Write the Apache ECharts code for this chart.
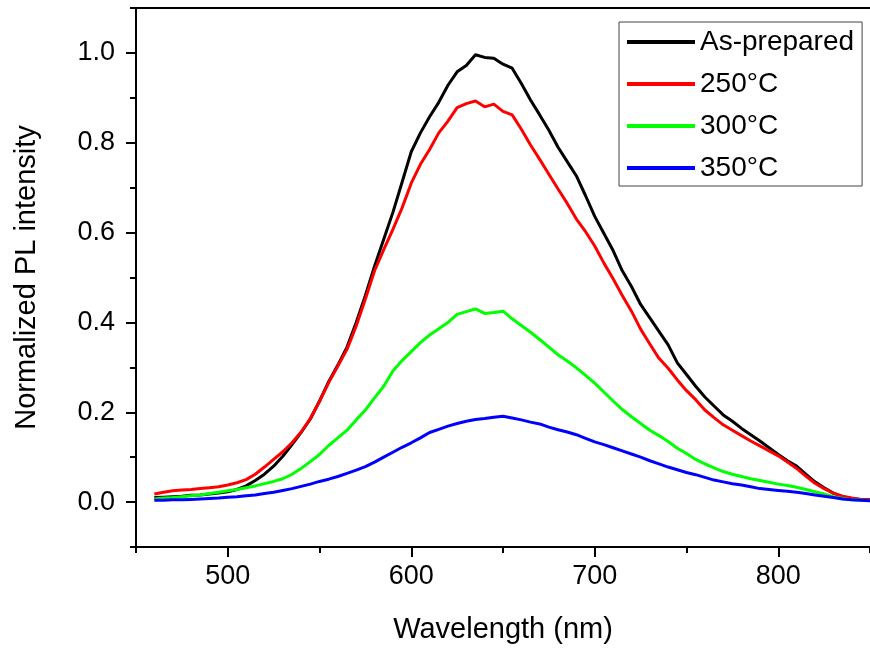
<!DOCTYPE html>
<html>
<head>
<meta charset="utf-8">
<script src="https://cdn.jsdelivr.net/npm/echarts@6/dist/echarts.min.js"></script>
<style>
html,body{margin:0;padding:0;background:#fff;}
#chart{width:870px;height:649px;}
</style>
</head>
<body>
<div id="chart"></div>
<script>
const wavelengths = [
460,465,470,475,480,485,490,495,500,505,
510,515,520,525,530,535,540,545,550,555,
560,565,570,575,580,585,590,595,600,605,
610,615,620,625,630,635,640,645,650,655,
660,665,670,675,680,685,690,695,700,705,
710,715,720,725,730,735,740,745,750,755,
760,765,770,775,780,785,790,795,800,805,
810,815,820,825,830,835,840,845,850];

const asPrepared = [
0.010,0.011,0.012,0.013,0.015,0.016,0.018,0.020,0.023,0.028,
0.036,0.048,0.062,0.080,0.102,0.128,0.155,0.185,0.225,0.268,
0.305,0.345,0.400,0.460,0.525,0.585,0.645,0.712,0.780,0.822,
0.858,0.890,0.928,0.958,0.972,0.996,0.990,0.988,0.975,0.966,
0.932,0.895,0.862,0.828,0.790,0.758,0.726,0.682,0.636,0.598,
0.560,0.515,0.480,0.440,0.410,0.380,0.350,0.310,0.284,0.258,
0.234,0.214,0.194,0.180,0.164,0.150,0.136,0.121,0.106,0.092,
0.080,0.062,0.045,0.032,0.020,0.012,0.008,0.006,0.005];

const t250 = [
0.018,0.022,0.025,0.027,0.028,0.030,0.032,0.034,0.038,0.043,
0.050,0.062,0.078,0.095,0.112,0.132,0.156,0.186,0.224,0.266,
0.303,0.340,0.392,0.452,0.515,0.562,0.607,0.655,0.710,0.752,
0.785,0.822,0.848,0.878,0.887,0.893,0.880,0.886,0.870,0.862,
0.830,0.795,0.763,0.730,0.697,0.665,0.630,0.602,0.570,0.532,
0.497,0.460,0.425,0.385,0.352,0.320,0.298,0.272,0.248,0.228,
0.205,0.188,0.172,0.160,0.148,0.136,0.125,0.114,0.103,0.089,
0.075,0.058,0.042,0.030,0.020,0.013,0.009,0.006,0.005];

const t300 = [
0.007,0.009,0.010,0.012,0.014,0.016,0.019,0.022,0.025,0.028,
0.032,0.036,0.041,0.046,0.052,0.062,0.075,0.090,0.106,0.126,
0.143,0.160,0.183,0.205,0.232,0.258,0.292,0.315,0.335,0.355,
0.372,0.386,0.400,0.418,0.424,0.430,0.420,0.422,0.425,0.408,
0.393,0.378,0.362,0.345,0.328,0.314,0.299,0.282,0.265,0.245,
0.225,0.206,0.190,0.175,0.160,0.148,0.135,0.120,0.108,0.095,
0.085,0.076,0.068,0.062,0.057,0.052,0.048,0.044,0.040,0.037,
0.033,0.028,0.023,0.018,0.012,0.008,0.005,0.004,0.003];

const t350 = [
0.004,0.004,0.005,0.005,0.006,0.007,0.008,0.009,0.011,0.012,
0.014,0.016,0.019,0.022,0.026,0.030,0.035,0.040,0.046,0.051,
0.057,0.064,0.071,0.079,0.089,0.100,0.111,0.122,0.132,0.143,
0.155,0.162,0.169,0.175,0.180,0.184,0.186,0.189,0.191,0.187,
0.183,0.178,0.174,0.167,0.161,0.156,0.150,0.142,0.134,0.128,
0.121,0.114,0.107,0.100,0.092,0.085,0.078,0.072,0.066,0.061,
0.055,0.049,0.045,0.041,0.038,0.034,0.030,0.028,0.026,0.024,
0.022,0.019,0.016,0.013,0.010,0.007,0.005,0.004,0.003];

const seriesNames = ['As-prepared', '250°C', '300°C', '350°C'];
const seriesColors = ['#000000', '#ff0000', '#00ff00', '#0000ff'];
const seriesValues = [asPrepared, t250, t300, t350];

const xTickLabels = [500, 600, 700, 800];
const yTickLabels = [0, 0.2, 0.4, 0.6, 0.8, 1.0];

const FONT = '"Liberation Sans", Arial, sans-serif';

const chart = echarts.init(document.getElementById('chart'), null, {renderer: 'canvas'});

const series = seriesNames.map((name, i) => ({
  name: name,
  type: 'line',
  symbol: 'none',
  showSymbol: false,
  smooth: false,
  color: seriesColors[i],
  lineStyle: {color: seriesColors[i], width: 3},
  itemStyle: {color: seriesColors[i]},
  xAxisIndex: 0,
  yAxisIndex: 0,
  data: wavelengths.map((w, k) => [w, seriesValues[i][k]])
}));

const axisLineStyle = {color: '#000', width: 2};

const option = {
  animation: false,
  backgroundColor: '#fff',
  textStyle: {fontFamily: FONT},
  grid: {left: 136, right: -2, top: 8, bottom: 100, containLabel: false},
  legend: {
    orient: 'vertical',
    left: 619,
    top: 22,
    padding: [6, 8, 4, 8],
    itemWidth: 68,
    itemHeight: 4,
    itemGap: 14,
    icon: 'rect',
    borderColor: '#444',
    borderWidth: 1,
    backgroundColor: '#fff',
    textStyle: {fontSize: 28, color: '#000', lineHeight: 28, fontFamily: FONT},
    data: seriesNames
  },
  xAxis: [{
    type: 'value',
    min: 450,
    max: 850,
    interval: 100,
    position: 'bottom',
    axisLine: {show: true, onZero: false, lineStyle: axisLineStyle},
    axisTick: {show: true, length: 6, lineStyle: axisLineStyle},
    minorTick: {show: true, splitNumber: 2, length: 10, lineStyle: axisLineStyle},
    axisLabel: {customValues: xTickLabels, margin: 16, fontSize: 27, color: '#000', fontFamily: FONT,
      formatter: v => String(Math.round(v))},
    splitLine: {show: false},
    minorSplitLine: {show: false},
    name: 'Wavelength (nm)',
    nameLocation: 'middle',
    nameGap: 68,
    nameTextStyle: {fontSize: 29, color: '#000', fontFamily: FONT}
  }, {
    type: 'value',
    min: 450,
    max: 850,
    position: 'top',
    axisLine: {show: true, onZero: false, lineStyle: axisLineStyle},
    axisTick: {show: false},
    axisLabel: {show: false},
    splitLine: {show: false}
  }],
  yAxis: [{
    type: 'value',
    min: -0.1,
    max: 1.1,
    interval: 0.2,
    position: 'left',
    axisLine: {show: true, onZero: false, lineStyle: axisLineStyle},
    axisTick: {show: true, length: 6, lineStyle: axisLineStyle},
    minorTick: {show: true, splitNumber: 2, length: 10, lineStyle: axisLineStyle},
    axisLabel: {customValues: yTickLabels, margin: 21, fontSize: 27, color: '#000', fontFamily: FONT,
      formatter: v => (Math.round(v * 10) / 10).toFixed(1)},
    splitLine: {show: false},
    minorSplitLine: {show: false},
    name: 'Normalized PL intensity',
    nameLocation: 'middle',
    nameGap: 95,
    nameTextStyle: {fontSize: 29, color: '#000', fontFamily: FONT}
  }],
  series: series
};

chart.setOption(option);
</script>
</body>
</html>
